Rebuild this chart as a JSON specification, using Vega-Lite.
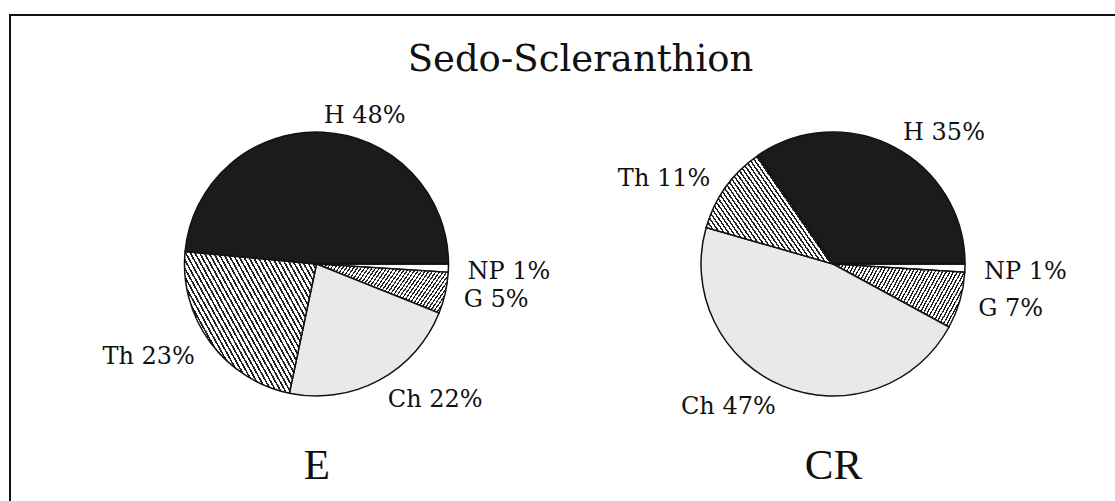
{
"$schema": "https://vega.github.io/schema/vega-lite/v6.json",
"width": 1115, "height": 501,
"autosize": {"type": "fit", "contains": "padding"},
"padding": {"left": 10, "top": 15, "right": -20, "bottom": -12},
"background": "#ffffff",
"title": {"text": "Sedo-Scleranthion", "font": "DejaVu Serif", "fontSize": 37, "fontWeight": "normal", "color": "#111111", "anchor": "middle", "offset": -93, "baseline": "alphabetic", "dx": 8},
"data": {"values": [
 {"panel": "E", "type": "NP", "pct": 1, "label": "NP 1%"},
 {"panel": "E", "type": "G", "pct": 5, "label": "G 5%"},
 {"panel": "E", "type": "Ch", "pct": 22, "label": "Ch 22%"},
 {"panel": "E", "type": "Th", "pct": 23, "label": "Th 23%"},
 {"panel": "E", "type": "H", "pct": 48, "label": "H 48%"},
 {"panel": "CR", "type": "NP", "pct": 1, "label": "NP 1%"},
 {"panel": "CR", "type": "G", "pct": 7, "label": "G 7%"},
 {"panel": "CR", "type": "Ch", "pct": 47, "label": "Ch 47%"},
 {"panel": "CR", "type": "Th", "pct": 11, "label": "Th 11%"},
 {"panel": "CR", "type": "H", "pct": 35, "label": "H 35%"}
]},
"transform": [{"stack": "pct", "groupby": ["panel"], "offset": "normalize", "as": ["s0", "s1"]}],
"encoding": {
 "x": {"field": "panel", "type": "nominal", "sort": ["E", "CR"],
  "scale": {"type": "point", "padding": 0.589, "align": 0.5037},
  "axis": {"orient": "bottom", "title": null, "domain": false, "ticks": false, "tickSize": 0, "grid": false, "labelAngle": 0, "labelFont": "Liberation Serif", "labelFontSize": 43, "labelColor": "#111111", "labelPadding": -35, "labelBaseline": "alphabetic"}}
},
"layer": [
 {"mark": {"type": "arc", "radius": 132, "stroke": "#111111", "strokeWidth": 1.5},
  "encoding": {
   "theta": {"field": "s0", "type": "quantitative", "scale": {"domain": [0, 1], "range": [1.5708, 7.854]}},
   "theta2": {"field": "s1"},
   "fill": {"condition": [
     {"test": "datum.type === 'H'", "value": "#1b1b1b"},
     {"test": "datum.type === 'Ch'", "value": "#e9e9e9"},
     {"test": "datum.type === 'Th'", "value": {"gradient": "linear", "x1": 0, "y1": 1, "x2": 1.18, "y2": 0.3, "stops": [
{"offset":0,"color":"#fff"},
{"offset":0.0133,"color":"#fff"},{"offset":0.0133,"color":"#222"},{"offset":0.0222,"color":"#222"},{"offset":0.0222,"color":"#fff"},
{"offset":0.0356,"color":"#fff"},{"offset":0.0356,"color":"#222"},{"offset":0.0444,"color":"#222"},{"offset":0.0444,"color":"#fff"},
{"offset":0.0578,"color":"#fff"},{"offset":0.0578,"color":"#222"},{"offset":0.0667,"color":"#222"},{"offset":0.0667,"color":"#fff"},
{"offset":0.08,"color":"#fff"},{"offset":0.08,"color":"#222"},{"offset":0.0889,"color":"#222"},{"offset":0.0889,"color":"#fff"},
{"offset":0.1022,"color":"#fff"},{"offset":0.1022,"color":"#222"},{"offset":0.1111,"color":"#222"},{"offset":0.1111,"color":"#fff"},
{"offset":0.1244,"color":"#fff"},{"offset":0.1244,"color":"#222"},{"offset":0.1333,"color":"#222"},{"offset":0.1333,"color":"#fff"},
{"offset":0.1467,"color":"#fff"},{"offset":0.1467,"color":"#222"},{"offset":0.1556,"color":"#222"},{"offset":0.1556,"color":"#fff"},
{"offset":0.1689,"color":"#fff"},{"offset":0.1689,"color":"#222"},{"offset":0.1778,"color":"#222"},{"offset":0.1778,"color":"#fff"},
{"offset":0.1911,"color":"#fff"},{"offset":0.1911,"color":"#222"},{"offset":0.2,"color":"#222"},{"offset":0.2,"color":"#fff"},
{"offset":0.2133,"color":"#fff"},{"offset":0.2133,"color":"#222"},{"offset":0.2222,"color":"#222"},{"offset":0.2222,"color":"#fff"},
{"offset":0.2356,"color":"#fff"},{"offset":0.2356,"color":"#222"},{"offset":0.2444,"color":"#222"},{"offset":0.2444,"color":"#fff"},
{"offset":0.2578,"color":"#fff"},{"offset":0.2578,"color":"#222"},{"offset":0.2667,"color":"#222"},{"offset":0.2667,"color":"#fff"},
{"offset":0.28,"color":"#fff"},{"offset":0.28,"color":"#222"},{"offset":0.2889,"color":"#222"},{"offset":0.2889,"color":"#fff"},
{"offset":0.3022,"color":"#fff"},{"offset":0.3022,"color":"#222"},{"offset":0.3111,"color":"#222"},{"offset":0.3111,"color":"#fff"},
{"offset":0.3244,"color":"#fff"},{"offset":0.3244,"color":"#222"},{"offset":0.3333,"color":"#222"},{"offset":0.3333,"color":"#fff"},
{"offset":0.3467,"color":"#fff"},{"offset":0.3467,"color":"#222"},{"offset":0.3556,"color":"#222"},{"offset":0.3556,"color":"#fff"},
{"offset":0.3689,"color":"#fff"},{"offset":0.3689,"color":"#222"},{"offset":0.3778,"color":"#222"},{"offset":0.3778,"color":"#fff"},
{"offset":0.3911,"color":"#fff"},{"offset":0.3911,"color":"#222"},{"offset":0.4,"color":"#222"},{"offset":0.4,"color":"#fff"},
{"offset":0.4133,"color":"#fff"},{"offset":0.4133,"color":"#222"},{"offset":0.4222,"color":"#222"},{"offset":0.4222,"color":"#fff"},
{"offset":0.4356,"color":"#fff"},{"offset":0.4356,"color":"#222"},{"offset":0.4444,"color":"#222"},{"offset":0.4444,"color":"#fff"},
{"offset":0.4578,"color":"#fff"},{"offset":0.4578,"color":"#222"},{"offset":0.4667,"color":"#222"},{"offset":0.4667,"color":"#fff"},
{"offset":0.48,"color":"#fff"},{"offset":0.48,"color":"#222"},{"offset":0.4889,"color":"#222"},{"offset":0.4889,"color":"#fff"},
{"offset":0.5022,"color":"#fff"},{"offset":0.5022,"color":"#222"},{"offset":0.5111,"color":"#222"},{"offset":0.5111,"color":"#fff"},
{"offset":0.5244,"color":"#fff"},{"offset":0.5244,"color":"#222"},{"offset":0.5333,"color":"#222"},{"offset":0.5333,"color":"#fff"},
{"offset":0.5467,"color":"#fff"},{"offset":0.5467,"color":"#222"},{"offset":0.5556,"color":"#222"},{"offset":0.5556,"color":"#fff"},
{"offset":0.5689,"color":"#fff"},{"offset":0.5689,"color":"#222"},{"offset":0.5778,"color":"#222"},{"offset":0.5778,"color":"#fff"},
{"offset":0.5911,"color":"#fff"},{"offset":0.5911,"color":"#222"},{"offset":0.6,"color":"#222"},{"offset":0.6,"color":"#fff"},
{"offset":0.6133,"color":"#fff"},{"offset":0.6133,"color":"#222"},{"offset":0.6222,"color":"#222"},{"offset":0.6222,"color":"#fff"},
{"offset":0.6356,"color":"#fff"},{"offset":0.6356,"color":"#222"},{"offset":0.6444,"color":"#222"},{"offset":0.6444,"color":"#fff"},
{"offset":0.6578,"color":"#fff"},{"offset":0.6578,"color":"#222"},{"offset":0.6667,"color":"#222"},{"offset":0.6667,"color":"#fff"},
{"offset":0.68,"color":"#fff"},{"offset":0.68,"color":"#222"},{"offset":0.6889,"color":"#222"},{"offset":0.6889,"color":"#fff"},
{"offset":0.7022,"color":"#fff"},{"offset":0.7022,"color":"#222"},{"offset":0.7111,"color":"#222"},{"offset":0.7111,"color":"#fff"},
{"offset":0.7244,"color":"#fff"},{"offset":0.7244,"color":"#222"},{"offset":0.7333,"color":"#222"},{"offset":0.7333,"color":"#fff"},
{"offset":0.7467,"color":"#fff"},{"offset":0.7467,"color":"#222"},{"offset":0.7556,"color":"#222"},{"offset":0.7556,"color":"#fff"},
{"offset":0.7689,"color":"#fff"},{"offset":0.7689,"color":"#222"},{"offset":0.7778,"color":"#222"},{"offset":0.7778,"color":"#fff"},
{"offset":0.7911,"color":"#fff"},{"offset":0.7911,"color":"#222"},{"offset":0.8,"color":"#222"},{"offset":0.8,"color":"#fff"},
{"offset":0.8133,"color":"#fff"},{"offset":0.8133,"color":"#222"},{"offset":0.8222,"color":"#222"},{"offset":0.8222,"color":"#fff"},
{"offset":0.8356,"color":"#fff"},{"offset":0.8356,"color":"#222"},{"offset":0.8444,"color":"#222"},{"offset":0.8444,"color":"#fff"},
{"offset":0.8578,"color":"#fff"},{"offset":0.8578,"color":"#222"},{"offset":0.8667,"color":"#222"},{"offset":0.8667,"color":"#fff"},
{"offset":0.88,"color":"#fff"},{"offset":0.88,"color":"#222"},{"offset":0.8889,"color":"#222"},{"offset":0.8889,"color":"#fff"},
{"offset":0.9022,"color":"#fff"},{"offset":0.9022,"color":"#222"},{"offset":0.9111,"color":"#222"},{"offset":0.9111,"color":"#fff"},
{"offset":0.9244,"color":"#fff"},{"offset":0.9244,"color":"#222"},{"offset":0.9333,"color":"#222"},{"offset":0.9333,"color":"#fff"},
{"offset":0.9467,"color":"#fff"},{"offset":0.9467,"color":"#222"},{"offset":0.9556,"color":"#222"},{"offset":0.9556,"color":"#fff"},
{"offset":0.9689,"color":"#fff"},{"offset":0.9689,"color":"#222"},{"offset":0.9778,"color":"#222"},{"offset":0.9778,"color":"#fff"},
{"offset":0.9911,"color":"#fff"},{"offset":0.9911,"color":"#222"},{"offset":1,"color":"#222"}
     ]}},
     {"test": "datum.type === 'G'", "value": {"gradient": "linear", "x1": 0, "y1": 0, "x2": 1.18, "y2": 0.31, "stops": [
{"offset":0,"color":"#fff"},
{"offset":0.0133,"color":"#fff"},{"offset":0.0133,"color":"#222"},{"offset":0.0222,"color":"#222"},{"offset":0.0222,"color":"#fff"},
{"offset":0.0356,"color":"#fff"},{"offset":0.0356,"color":"#222"},{"offset":0.0444,"color":"#222"},{"offset":0.0444,"color":"#fff"},
{"offset":0.0578,"color":"#fff"},{"offset":0.0578,"color":"#222"},{"offset":0.0667,"color":"#222"},{"offset":0.0667,"color":"#fff"},
{"offset":0.08,"color":"#fff"},{"offset":0.08,"color":"#222"},{"offset":0.0889,"color":"#222"},{"offset":0.0889,"color":"#fff"},
{"offset":0.1022,"color":"#fff"},{"offset":0.1022,"color":"#222"},{"offset":0.1111,"color":"#222"},{"offset":0.1111,"color":"#fff"},
{"offset":0.1244,"color":"#fff"},{"offset":0.1244,"color":"#222"},{"offset":0.1333,"color":"#222"},{"offset":0.1333,"color":"#fff"},
{"offset":0.1467,"color":"#fff"},{"offset":0.1467,"color":"#222"},{"offset":0.1556,"color":"#222"},{"offset":0.1556,"color":"#fff"},
{"offset":0.1689,"color":"#fff"},{"offset":0.1689,"color":"#222"},{"offset":0.1778,"color":"#222"},{"offset":0.1778,"color":"#fff"},
{"offset":0.1911,"color":"#fff"},{"offset":0.1911,"color":"#222"},{"offset":0.2,"color":"#222"},{"offset":0.2,"color":"#fff"},
{"offset":0.2133,"color":"#fff"},{"offset":0.2133,"color":"#222"},{"offset":0.2222,"color":"#222"},{"offset":0.2222,"color":"#fff"},
{"offset":0.2356,"color":"#fff"},{"offset":0.2356,"color":"#222"},{"offset":0.2444,"color":"#222"},{"offset":0.2444,"color":"#fff"},
{"offset":0.2578,"color":"#fff"},{"offset":0.2578,"color":"#222"},{"offset":0.2667,"color":"#222"},{"offset":0.2667,"color":"#fff"},
{"offset":0.28,"color":"#fff"},{"offset":0.28,"color":"#222"},{"offset":0.2889,"color":"#222"},{"offset":0.2889,"color":"#fff"},
{"offset":0.3022,"color":"#fff"},{"offset":0.3022,"color":"#222"},{"offset":0.3111,"color":"#222"},{"offset":0.3111,"color":"#fff"},
{"offset":0.3244,"color":"#fff"},{"offset":0.3244,"color":"#222"},{"offset":0.3333,"color":"#222"},{"offset":0.3333,"color":"#fff"},
{"offset":0.3467,"color":"#fff"},{"offset":0.3467,"color":"#222"},{"offset":0.3556,"color":"#222"},{"offset":0.3556,"color":"#fff"},
{"offset":0.3689,"color":"#fff"},{"offset":0.3689,"color":"#222"},{"offset":0.3778,"color":"#222"},{"offset":0.3778,"color":"#fff"},
{"offset":0.3911,"color":"#fff"},{"offset":0.3911,"color":"#222"},{"offset":0.4,"color":"#222"},{"offset":0.4,"color":"#fff"},
{"offset":0.4133,"color":"#fff"},{"offset":0.4133,"color":"#222"},{"offset":0.4222,"color":"#222"},{"offset":0.4222,"color":"#fff"},
{"offset":0.4356,"color":"#fff"},{"offset":0.4356,"color":"#222"},{"offset":0.4444,"color":"#222"},{"offset":0.4444,"color":"#fff"},
{"offset":0.4578,"color":"#fff"},{"offset":0.4578,"color":"#222"},{"offset":0.4667,"color":"#222"},{"offset":0.4667,"color":"#fff"},
{"offset":0.48,"color":"#fff"},{"offset":0.48,"color":"#222"},{"offset":0.4889,"color":"#222"},{"offset":0.4889,"color":"#fff"},
{"offset":0.5022,"color":"#fff"},{"offset":0.5022,"color":"#222"},{"offset":0.5111,"color":"#222"},{"offset":0.5111,"color":"#fff"},
{"offset":0.5244,"color":"#fff"},{"offset":0.5244,"color":"#222"},{"offset":0.5333,"color":"#222"},{"offset":0.5333,"color":"#fff"},
{"offset":0.5467,"color":"#fff"},{"offset":0.5467,"color":"#222"},{"offset":0.5556,"color":"#222"},{"offset":0.5556,"color":"#fff"},
{"offset":0.5689,"color":"#fff"},{"offset":0.5689,"color":"#222"},{"offset":0.5778,"color":"#222"},{"offset":0.5778,"color":"#fff"},
{"offset":0.5911,"color":"#fff"},{"offset":0.5911,"color":"#222"},{"offset":0.6,"color":"#222"},{"offset":0.6,"color":"#fff"},
{"offset":0.6133,"color":"#fff"},{"offset":0.6133,"color":"#222"},{"offset":0.6222,"color":"#222"},{"offset":0.6222,"color":"#fff"},
{"offset":0.6356,"color":"#fff"},{"offset":0.6356,"color":"#222"},{"offset":0.6444,"color":"#222"},{"offset":0.6444,"color":"#fff"},
{"offset":0.6578,"color":"#fff"},{"offset":0.6578,"color":"#222"},{"offset":0.6667,"color":"#222"},{"offset":0.6667,"color":"#fff"},
{"offset":0.68,"color":"#fff"},{"offset":0.68,"color":"#222"},{"offset":0.6889,"color":"#222"},{"offset":0.6889,"color":"#fff"},
{"offset":0.7022,"color":"#fff"},{"offset":0.7022,"color":"#222"},{"offset":0.7111,"color":"#222"},{"offset":0.7111,"color":"#fff"},
{"offset":0.7244,"color":"#fff"},{"offset":0.7244,"color":"#222"},{"offset":0.7333,"color":"#222"},{"offset":0.7333,"color":"#fff"},
{"offset":0.7467,"color":"#fff"},{"offset":0.7467,"color":"#222"},{"offset":0.7556,"color":"#222"},{"offset":0.7556,"color":"#fff"},
{"offset":0.7689,"color":"#fff"},{"offset":0.7689,"color":"#222"},{"offset":0.7778,"color":"#222"},{"offset":0.7778,"color":"#fff"},
{"offset":0.7911,"color":"#fff"},{"offset":0.7911,"color":"#222"},{"offset":0.8,"color":"#222"},{"offset":0.8,"color":"#fff"},
{"offset":0.8133,"color":"#fff"},{"offset":0.8133,"color":"#222"},{"offset":0.8222,"color":"#222"},{"offset":0.8222,"color":"#fff"},
{"offset":0.8356,"color":"#fff"},{"offset":0.8356,"color":"#222"},{"offset":0.8444,"color":"#222"},{"offset":0.8444,"color":"#fff"},
{"offset":0.8578,"color":"#fff"},{"offset":0.8578,"color":"#222"},{"offset":0.8667,"color":"#222"},{"offset":0.8667,"color":"#fff"},
{"offset":0.88,"color":"#fff"},{"offset":0.88,"color":"#222"},{"offset":0.8889,"color":"#222"},{"offset":0.8889,"color":"#fff"},
{"offset":0.9022,"color":"#fff"},{"offset":0.9022,"color":"#222"},{"offset":0.9111,"color":"#222"},{"offset":0.9111,"color":"#fff"},
{"offset":0.9244,"color":"#fff"},{"offset":0.9244,"color":"#222"},{"offset":0.9333,"color":"#222"},{"offset":0.9333,"color":"#fff"},
{"offset":0.9467,"color":"#fff"},{"offset":0.9467,"color":"#222"},{"offset":0.9556,"color":"#222"},{"offset":0.9556,"color":"#fff"},
{"offset":0.9689,"color":"#fff"},{"offset":0.9689,"color":"#222"},{"offset":0.9778,"color":"#222"},{"offset":0.9778,"color":"#fff"},
{"offset":0.9911,"color":"#fff"},{"offset":0.9911,"color":"#222"},{"offset":1,"color":"#222"}
     ]}}
    ], "value": "#ffffff"}
  }},
 {"transform": [
   {"fold": ["s0", "s1"], "as": ["k", "v"]},
   {"aggregate": [{"op": "mean", "field": "v", "as": "mid"}], "groupby": ["panel", "type", "label"]}
  ],
  "mark": {"type": "text", "radius": 151, "font": "DejaVu Serif", "fontSize": 24, "baseline": "middle", "dy": 3, "color": "#111111",
   "align": {"expr": "cos(2*PI*datum.mid) > 0 ? 'left' : 'right'"}},
  "encoding": {
   "theta": {"field": "mid", "type": "quantitative", "scale": {"domain": [0, 1], "range": [1.5708, 7.854]}},
   "text": {"field": "label"}
  }}
],
"config": {"view": {"stroke": "#111111", "strokeWidth": 2}}
}
